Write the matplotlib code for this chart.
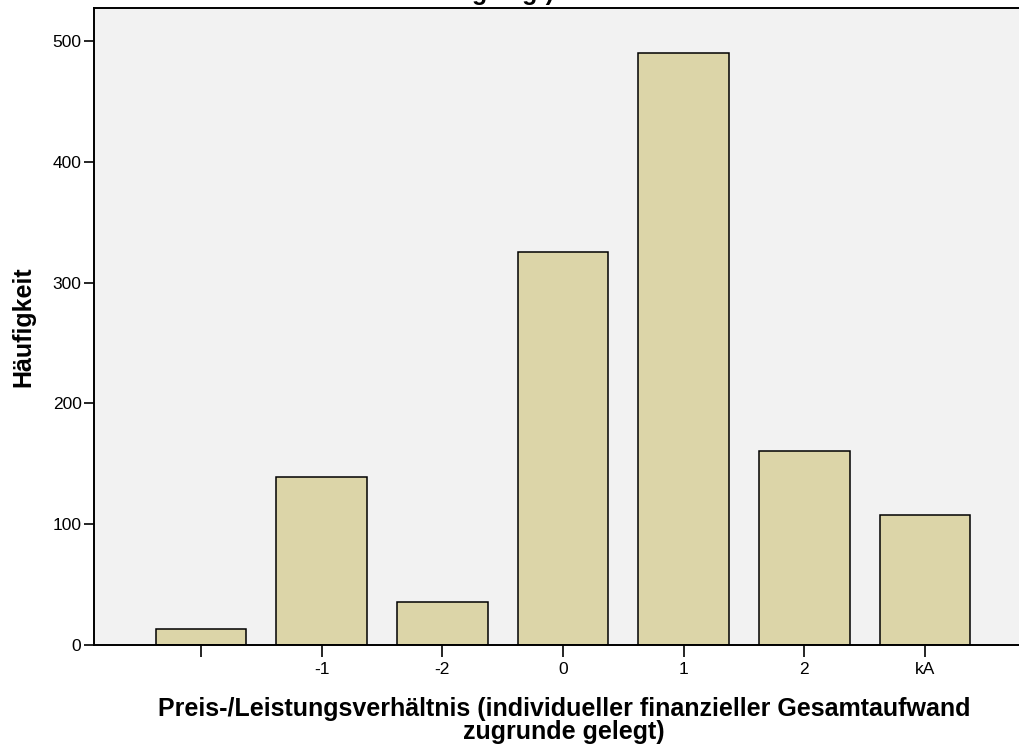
import matplotlib
matplotlib.use("Agg")
import matplotlib.pyplot as plt

plt.rcParams['font.family'] = ['Liberation Sans', 'DejaVu Sans']

# Häufigkeiten je Kategorie (erste Kategorie ohne Beschriftung)
categories = ["", "-1", "-2", "0", "1", "2", "kA"]
counts = [13, 139, 36, 325, 490, 161, 108]
y_ticks = [0, 100, 200, 300, 400, 500]

bar_color = "#dcd5a8"
bg_color = "#f2f2f2"

fig = plt.figure(figsize=(10.19, 7.49), dpi=100)
ax = fig.add_axes([94 / 1019, 1 - 645 / 749, (1019 - 94) / 1019, (645 - 8) / 749])
ax.set_facecolor(bg_color)

x = list(range(len(categories)))
ax.bar(x, counts, width=0.75, color=bar_color, edgecolor="black", linewidth=1.1, zorder=2)

ax.set_xlim(-0.887, 6.779)
ax.set_ylim(0, 527.3)
ax.set_xticks(x)
ax.set_xticklabels(categories)
ax.set_yticks(y_ticks)

ax.tick_params(axis="y", direction="out", length=7, width=1.2, pad=2, labelsize=12.5)
ax.tick_params(axis="x", direction="out", length=8.5, width=1.2, pad=4, labelsize=12.5)

for side in ["left", "bottom", "top"]:
    ax.spines[side].set_linewidth(1.4)
ax.spines["right"].set_visible(False)

ax.set_ylabel("Häufigkeit", fontsize=18, fontweight="bold", labelpad=12)

fig.text(564 / 1019, 1 - 697 / 749,
         "Preis-/Leistungsverhältnis (individueller finanzieller Gesamtaufwand\nzugrunde gelegt)",
         ha="center", va="top", fontsize=18, fontweight="bold", linespacing=0.95)

# Titel oben, abgeschnitten (nur Unterlängen sichtbar)
fig.text(0.503, 1.0, "gelegt)", ha="center", va="baseline", fontsize=18, fontweight="bold")

fig.savefig("out.png", dpi=100, facecolor="white")
